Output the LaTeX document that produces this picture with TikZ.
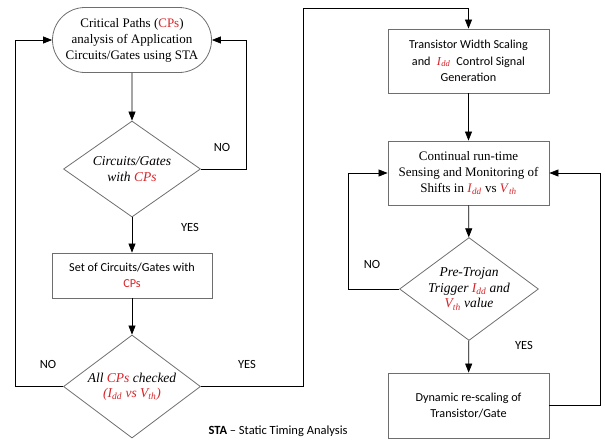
\documentclass[tikz,border=0pt]{standalone}
\usepackage{fontspec}
\setmainfont{Liberation Serif}
\newfontfamily\calfont{Carlito}
\usetikzlibrary{arrows.meta,shapes.geometric,shapes.misc}
\definecolor{cpred}{RGB}{215,35,40}
\definecolor{edgegray}{RGB}{110,110,110}
\newcommand{\Idd}{\textcolor{cpred}{\textit{I}\textsubscript{\textit{dd}}}}
\newcommand{\Vth}{\textcolor{cpred}{\textit{V}\textsubscript{\textit{th}}}}
\newcommand{\CPs}{\textcolor{cpred}{CPs}}
\tikzset{
  serifbox/.style={rectangle, draw=edgegray, line width=0.8pt, align=center, inner sep=2pt,
     minimum width=161pt, minimum height=64pt, font=\fontsize{13}{16}\selectfont},
  sansbox/.style={rectangle, draw=edgegray, line width=0.8pt, align=center, inner sep=2pt,
     minimum width=161pt, minimum height=64pt, font=\calfont\fontsize{12.2}{16.5}\selectfont},
  term/.style={rounded rectangle, draw=edgegray, line width=0.8pt, align=center, inner sep=2pt,
     minimum width=163pt, minimum height=65pt, font=\fontsize{13}{16}\selectfont},
  decision/.style={diamond, draw=edgegray, line width=0.8pt, align=center, inner sep=0pt,
     aspect=1.35, font=\itshape\fontsize{13.5}{15.5}\selectfont},
  lbl/.style={font=\calfont\fontsize{12.5}{14}\selectfont},
  conn/.style={draw=black, line width=0.7pt},
  arr/.style={conn, -{Triangle[length=9pt,width=7pt]}},
}
\begin{document}
\begin{tikzpicture}[x=1pt,y=-1pt]
\useasboundingbox (0,0) rectangle (605,440);
% left column
\node[term] (t) at (132,40) {Critical Paths (\CPs)\\analysis of Application\\Circuits/Gates using STA};
\node[decision, minimum width=137pt, minimum height=96pt] (d1) at (132,169) {Circuits/Gates\\with \CPs};
\node[sansbox, minimum width=160pt, minimum height=45pt] (b2) at (132,275.5) {Set of Circuits/Gates with\\\CPs};
\node[decision, minimum width=137pt, minimum height=103pt] (d3) at (132,386.5) {All \CPs\ checked\\\textcolor{cpred}{(\Idd\ vs \Vth)}};
% right column
\node[sansbox] (b3) at (468.5,61) {Transistor Width Scaling\\and \;\textrm{\Idd}\; Control Signal\\Generation};
\node[serifbox] (b4) at (468.5,173) {Continual run-time\\Sensing and Monitoring of\\Shifts in \Idd\ vs \Vth};
\node[decision, minimum width=136pt, minimum height=102pt] (d4) at (469,289) {Pre-Trojan\\Trigger \Idd\ and\\\Vth\ value};
\node[sansbox, minimum height=65pt] (b5) at (468.5,405.5) {Dynamic re-scaling of\\Transistor/Gate};
% corner coordinates
\coordinate (c1) at (246,40);
\coordinate (c2) at (15,40);
\coordinate (c3) at (303,8);
\coordinate (c4) at (348,173);
\coordinate (c5) at (600,173);
% connectors
\draw[arr] (t) -- (d1);
\draw[arr] (d1) -- (b2);
\draw[arr] (b2) -- (d3);
\draw[conn] (d1.east) -| (c1);
\draw[arr] (c1) -- (t.east);
\draw[conn] (d3.west) -| (c2);
\draw[arr] (c2) -- (t.west);
\draw[conn] (d3.east) -| (c3);
\draw[arr] (c3) -| (b3.north);
\draw[arr] (b3) -- (b4);
\draw[arr] (b4) -- (d4);
\draw[arr] (d4) -- (b5);
\draw[conn] (d4.west) -| (c4);
\draw[arr] (c4) -- (b4.west);
\draw[conn] (b5.east) -| (c5);
\draw[arr] (c5) -- (b4.east);
% labels
\node[lbl] (n1) at (222,147) {NO};
\node[lbl] (y1) at (190,227) {YES};
\node[lbl] (n2) at (48,364) {NO};
\node[lbl] (y2) at (247,364) {YES};
\node[lbl] (n3) at (372,264) {NO};
\node[lbl] (y3) at (524,345) {YES};
\node[lbl, anchor=west] (sta) at (205,431) {\textbf{STA} – Static Timing Analysis};
\end{tikzpicture}
\end{document}
